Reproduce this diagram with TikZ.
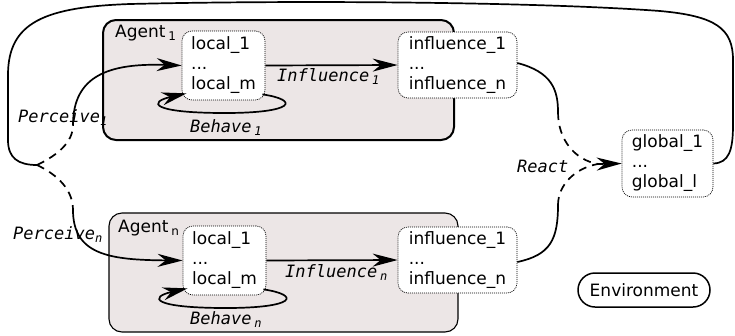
\documentclass[tikz,border=0pt]{standalone}
\usepackage{fontspec}
\setmainfont{DejaVu Sans}
\newfontfamily\lblfont{DejaVu Sans Mono}
\usetikzlibrary{arrows.meta,calc}
\definecolor{agentfill}{RGB}{236,230,230}
\newcommand\lsub[1]{\raisebox{-0.4ex}{\fontsize{12}{12}\selectfont #1}}
\begin{document}
\begin{tikzpicture}[x=1pt,y=-1pt,
  every node/.style={font=\fontsize{17}{20}\selectfont},
  statebox/.style={draw, dash pattern=on 1pt off 1pt, line width=0.7pt, rounded corners=10pt, fill=white, align=left, inner sep=0pt},
  agentbox/.style={draw, rounded corners=13pt, fill=agentfill, inner sep=0pt},
  conn/.style={line width=1.7pt},
  dconn/.style={line width=1.7pt, dash pattern=on 8pt off 6pt},
  tip/.style={-{Stealth[length=25pt,width=13pt,inset=8pt]}},
  lbl/.style={font=\lblfont\itshape\fontsize{17}{20}\selectfont, inner sep=0pt, anchor=base west},
  agentlbl/.style={inner sep=0pt, anchor=base west},
]
\useasboundingbox (0,0) rectangle (735,335);

% agent boxes
\node[agentbox, line width=2pt, minimum width=351pt, minimum height=120pt] (A1) at (278.5,80) {};
\node[agentbox, line width=1.1pt, minimum width=349pt, minimum height=119pt] (AN) at (283.5,272.5) {};
\node[agentlbl] (la1) at (115,37) {Agent\,\lsub{1}};
\node[agentlbl] (laN) at (118,232) {Agent\,\lsub{n}};

% state boxes
\node[statebox, minimum width=83pt, minimum height=69pt] (loc1) at (223.5,65.5) {local\_1\\...\\local\_m};
\node[statebox, minimum width=119pt, minimum height=66pt] (inf1) at (457.5,65) {influence\_1\\...\\influence\_n};
\node[statebox, minimum width=83pt, minimum height=69pt] (locN) at (224.5,260.5) {local\_1\\...\\local\_m};
\node[statebox, minimum width=119pt, minimum height=66pt] (infN) at (457.5,260) {influence\_1\\...\\influence\_n};
\node[statebox, minimum width=91pt, minimum height=67pt] (glob) at (667.5,163.5) {global\_1\\...\\global\_l};
\node[draw, line width=1.5pt, rounded corners=17pt, minimum width=132pt, minimum height=34pt, inner sep=0pt] (env) at (644,290) {Environment};

% free coordinates
\coordinate (P) at (37,165);
\coordinate (p1) at (73,125);
\coordinate (pN) at (73,210);
\coordinate (R) at (598,164);
\coordinate (r1) at (558,112);
\coordinate (rN) at (558,205);

% influence arrows
\draw[conn,tip] (loc1.east) -- (inf1.west);
\draw[conn,tip] (locN.east) -- (infN.west);

% behave loops
\draw[conn,tip] ($(loc1.south east)+(-3,-6)$) .. controls (300,100) and (295,113) .. (225,113)
   .. controls (150,113) and (148,102) .. ($(loc1.south west)+(5,-7)$);
\draw[conn,tip] ($(locN.south east)+(-3,-6)$) .. controls (301,295) and (296,308) .. (226,308)
   .. controls (151,308) and (149,297) .. ($(locN.south west)+(5,-7)$);

% perceive
\draw[dconn] (P) .. controls (58,155) and (73,142) .. (p1);
\draw[conn,tip] (p1) .. controls (73,75) and (110,63) .. (loc1.west);
\draw[dconn] (P) .. controls (58,175) and (73,190) .. (pN);
\draw[conn,tip] (pN) .. controls (73,255) and (110,260) .. (locN.west);

% react
\draw[conn] ($(inf1.east)+(0,-2)$) .. controls (552,72) and (558,90) .. (r1);
\draw[dconn] (r1) .. controls (558,140) and (575,160) .. (R);
\draw[conn] ($(infN.east)+(0,2)$) .. controls (550,255) and (558,240) .. (rN);
\draw[dconn] (rN) .. controls (558,185) and (575,168) .. (R);
\draw[conn,tip] (R) -- (glob.west);

% outer loop
\draw[conn] (glob.east) .. controls (729,163) and (733,150) .. (733,125) -- (733,60)
  .. controls (733,28) and (715,16) .. (660,11)
  .. controls (540,2) and (300,0) .. (130,4)
  .. controls (45,7) and (8,22) .. (8,75) -- (8,140)
  .. controls (8,158) and (18,165) .. (P);

% labels
\node[lbl] (lp1) at (18,122) {Perceive\lsub{1}};
\node[lbl] (lpN) at (13,239) {Perceive\lsub{n}};
\node[lbl] (li1) at (277,81) {Influence\,\lsub{1}};
\node[lbl] (liN) at (285,277) {Influence\,\lsub{n}};
\node[lbl] (lb1) at (190,132) {Behave\,\lsub{1}};
\node[lbl] (lbN) at (190,324) {Behave\,\lsub{n}};
\node[lbl] (lr) at (517,172) {React};
\end{tikzpicture}
\end{document}
